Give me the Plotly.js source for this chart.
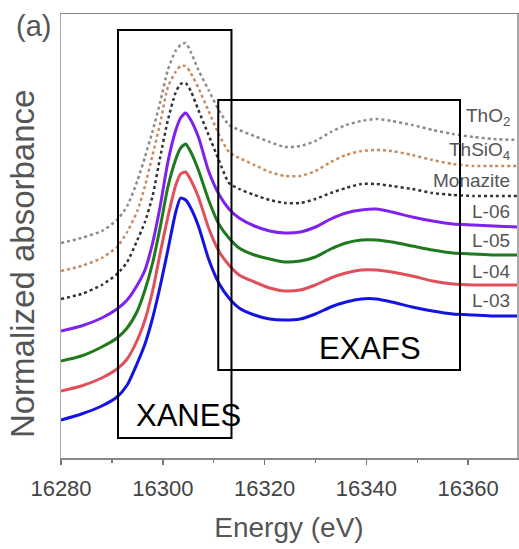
<!DOCTYPE html>
<html>
<head>
<meta charset="utf-8">
<script src="https://cdn.plot.ly/plotly-3.0.1.min.js"></script>
<style>html,body{margin:0;padding:0;background:#fff}#chart{width:519px;height:549px}</style>
</head>
<body>
<div id="chart"></div>
<script>
// Energy grid (eV)
const energy = [16280,16284,16288,16291,16293,16295,16296.5,16298,16299.5,16301,16302.5,16303.5,16304.5,16305.5,16307,16309,16311,16313,16315,16318,16321,16324,16327,16330,16333,16336,16339,16342,16345,16349,16353,16357,16361,16365,16370];

// Normalized absorbance (vertically offset for display)
const L03 = [0.38,0.44,0.52,0.61,0.73,0.95,1.14,1.40,1.72,2.08,2.45,2.60,2.58,2.50,2.32,1.99,1.75,1.60,1.50,1.43,1.39,1.38,1.39,1.44,1.51,1.56,1.59,1.59,1.56,1.51,1.47,1.44,1.43,1.42,1.42];
const L04 = [0.67,0.72,0.80,0.89,0.99,1.18,1.38,1.67,2.05,2.41,2.72,2.84,2.86,2.78,2.61,2.30,2.07,1.93,1.83,1.76,1.70,1.67,1.68,1.73,1.80,1.85,1.88,1.88,1.86,1.82,1.77,1.74,1.73,1.73,1.73];
const L05 = [0.97,1.02,1.11,1.20,1.30,1.47,1.68,1.95,2.31,2.71,2.98,3.10,3.14,3.06,2.88,2.58,2.34,2.20,2.10,2.03,1.99,1.96,1.97,2.01,2.09,2.15,2.18,2.18,2.16,2.12,2.08,2.05,2.04,2.03,2.03];
const L06 = [1.27,1.32,1.40,1.49,1.58,1.73,1.88,2.15,2.52,2.96,3.27,3.40,3.45,3.38,3.21,2.87,2.64,2.49,2.40,2.32,2.27,2.25,2.26,2.31,2.39,2.45,2.48,2.49,2.46,2.41,2.37,2.34,2.33,2.32,2.31];
const Monazite = [1.59,1.64,1.73,1.84,1.96,2.18,2.36,2.62,3.01,3.38,3.65,3.74,3.75,3.67,3.48,3.23,2.98,2.75,2.69,2.63,2.58,2.55,2.55,2.59,2.65,2.70,2.74,2.74,2.72,2.69,2.65,2.63,2.62,2.62,2.62];
const ThSiO4 = [1.87,1.92,2.00,2.11,2.26,2.47,2.72,3.03,3.35,3.71,3.86,3.92,3.92,3.85,3.70,3.47,3.24,3.06,3.00,2.93,2.86,2.82,2.82,2.87,2.96,3.03,3.07,3.08,3.07,3.03,2.98,2.94,2.92,2.92,2.92];
const ThO2 = [2.15,2.20,2.27,2.38,2.52,2.77,3.01,3.27,3.56,3.88,4.07,4.13,4.15,4.06,3.88,3.68,3.48,3.33,3.28,3.22,3.16,3.11,3.12,3.17,3.26,3.33,3.37,3.39,3.37,3.33,3.28,3.24,3.21,3.19,3.18];

const seriesNames = ['L-03','L-04','L-05','L-06','Monazite','ThSiO<sub>4</sub>','ThO<sub>2</sub>'];
const seriesValues = [L03, L04, L05, L06, Monazite, ThSiO4, ThO2];
const seriesColors = ['#1414e0','#e0505a','#1f7a1f','#7f22ee','#333333','#c98a5e','#8c8c8c'];
const seriesDash = ['solid','solid','solid','solid','dot','dot','dot'];
const labelY = [1.58,1.87,2.18,2.47,2.78,3.07,3.41];

const xTicks = [16280,16300,16320,16340,16360];
const regionNames = ['XANES','EXAFS'];
const yTitle = 'Normalized absorbance';

const font = 'Liberation Sans, Arial, sans-serif';

const traces = seriesValues.map((v,i)=>({
  x: energy, y: v, type:'scatter', mode:'lines', name: seriesNames[i],
  line:{color:seriesColors[i], width: seriesDash[i]==='dot'?2.5:3, dash:seriesDash[i], shape:'spline', smoothing:0.6},
  showlegend:false, hoverinfo:'skip'
}));

const annotations = seriesNames.map((n,i)=>({
  x: 16368.3, y: labelY[i], xref:'x', yref:'y', text:n, showarrow:false, xshift:2,
  xanchor:'right', yanchor:'middle', font:{family:font, size:19, color:'#555'}
}));
annotations.push({x:16305, y:0.43, xref:'x', yref:'y', text:regionNames[0], showarrow:false,
  xanchor:'center', yanchor:'middle', font:{family:font, size:31, color:'#000'}});
annotations.push({x:16340.7, y:1.10, xref:'x', yref:'y', text:regionNames[1], showarrow:false,
  xanchor:'center', yanchor:'middle', font:{family:font, size:31, color:'#000'}});
annotations.push({x:-0.061, y:0.972, xref:'paper', yref:'paper', text:'(a)', showarrow:false,
  xanchor:'center', yanchor:'middle', font:{family:font, size:29, color:'#555'}});
annotations.push({x:-0.083, y:0.437, xref:'paper', yref:'paper', text:yTitle, showarrow:false, textangle:-90,
  xanchor:'center', yanchor:'middle', font:{family:font, size:33, color:'#555'}});

const layout = {
  width:519, height:549,
  margin:{l:61, r:2, t:14, b:91},
  paper_bgcolor:'#fff', plot_bgcolor:'#fff',
  font:{family:font, color:'#444'},
  xaxis:{
    range:[16280,16369.6], tickvals:xTicks, ticktext:xTicks.map(String),
    ticks:'outside', ticklen:5, tickcolor:'#777', tickwidth:1.5, ticklabelstandoff:5,
    minor:{dtick:10, tick0:16280, ticks:'outside', ticklen:3, tickcolor:'#777'},
    showgrid:false, zeroline:false, showline:true, linecolor:'#888', linewidth:1.5, mirror:true,
    tickfont:{family:font, size:22, color:'#444'},
    title:{text:'Energy (eV)', font:{family:font, size:28, color:'#555'}, standoff:17}
  },
  yaxis:{
    range:[0,4.44], showticklabels:false, ticks:'', showgrid:false, zeroline:false,
    showline:true, linecolor:'#aaa', linewidth:1.5, mirror:true
  },
  shapes:[
    {type:'rect', xref:'x', yref:'y', x0:16291.2, x1:16313.5, y0:0.20, y1:4.28, line:{color:'#000', width:2}, layer:'above'},
    {type:'rect', xref:'x', yref:'y', x0:16310.9, x1:16358.4, y0:0.88, y1:3.58, line:{color:'#000', width:2}, layer:'above'}
  ],
  annotations: annotations
};

Plotly.newPlot('chart', traces, layout, {staticPlot:true, displayModeBar:false});
</script>
</body>
</html>
